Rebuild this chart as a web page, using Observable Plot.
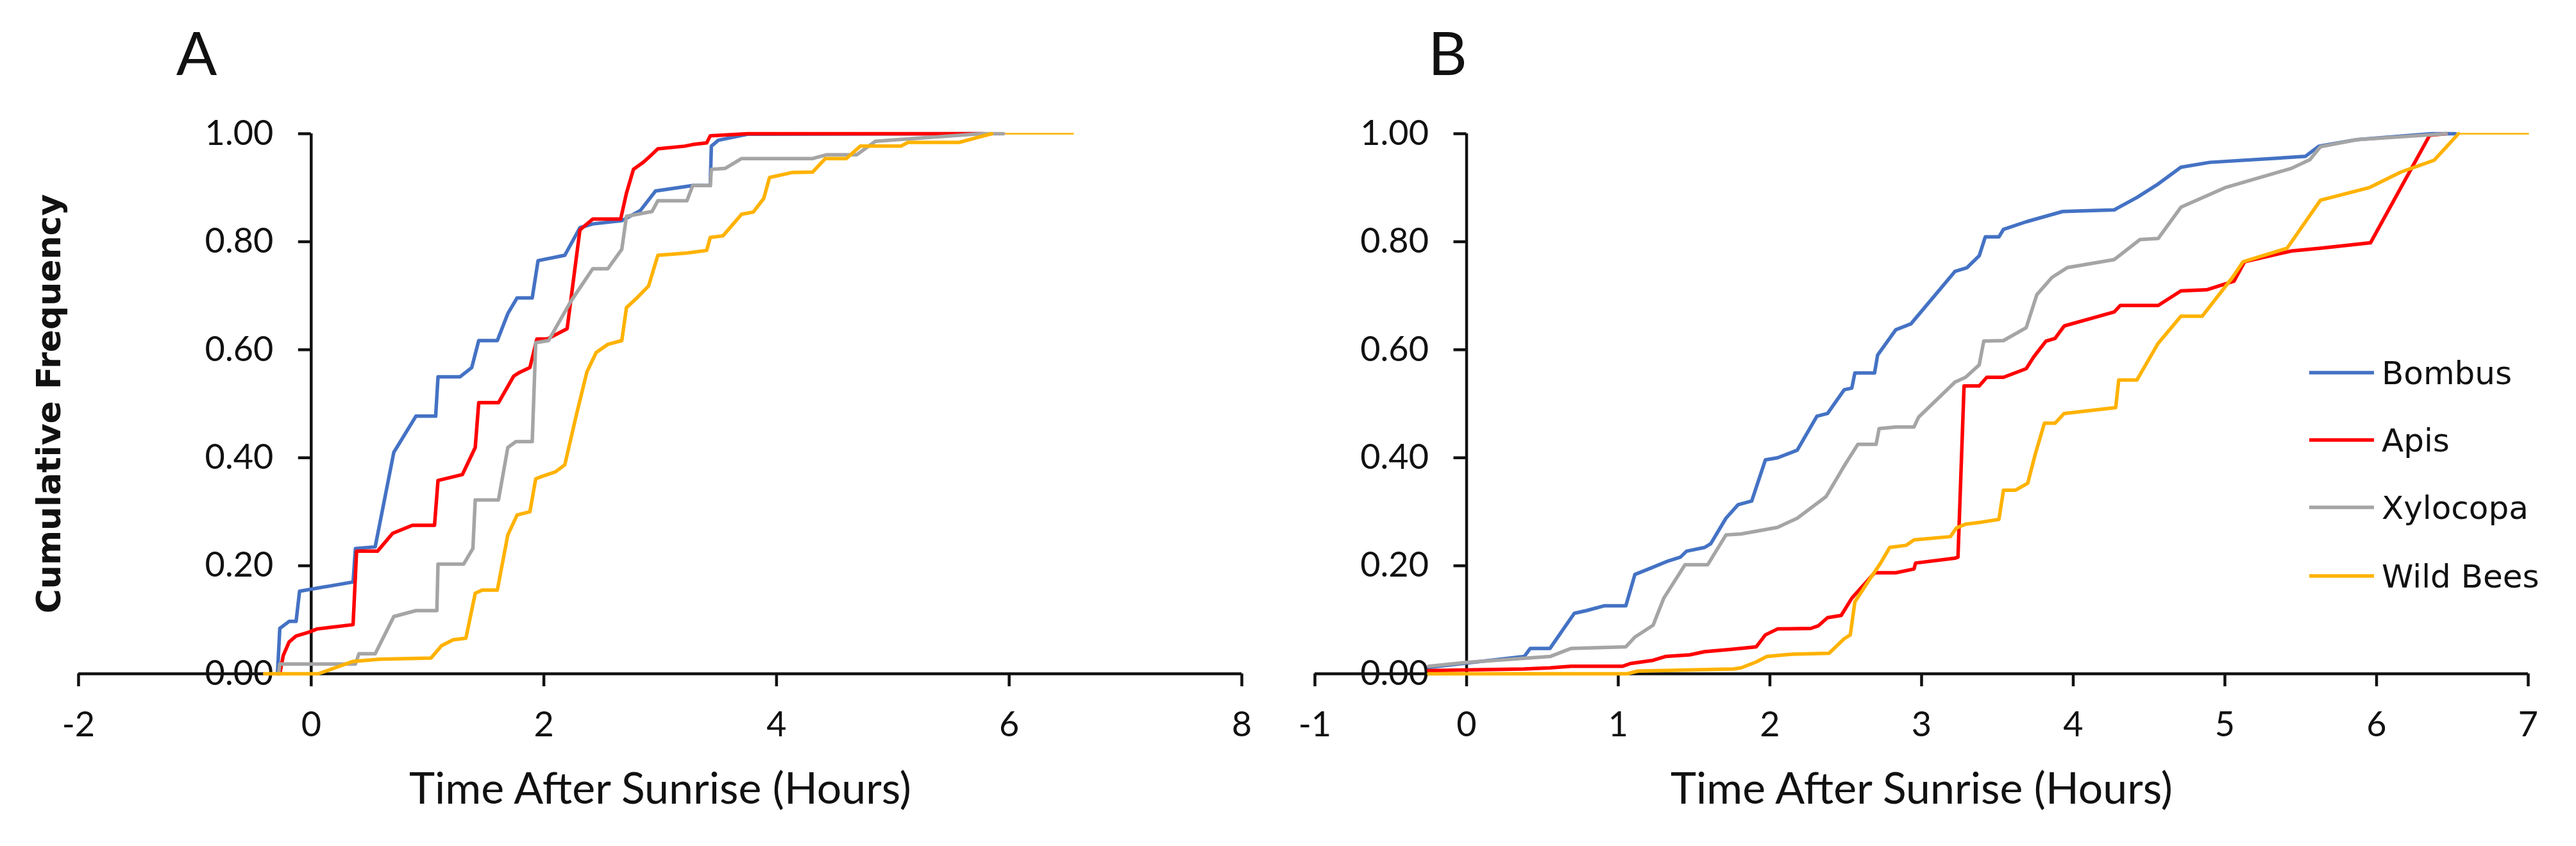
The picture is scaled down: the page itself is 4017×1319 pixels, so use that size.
<!DOCTYPE html>
<html><head><meta charset="utf-8">
<script src="https://cdn.jsdelivr.net/npm/d3@7"></script>
<script src="https://cdn.jsdelivr.net/npm/@observablehq/plot@0.6"></script>
<style>
html,body{margin:0;padding:0;background:#fff;}
#wrap{position:relative;width:4017px;height:1319px;overflow:hidden;background:#fff;}
#a{position:absolute;left:0;top:0;width:2000px;height:1319px;}
#b{position:absolute;left:2000px;top:0;width:2017px;height:1319px;}
#legend{position:absolute;left:3580px;top:530px;}
</style></head><body>
<div id="wrap"><div id="a"></div><div id="b"></div><div id="legend"></div></div>
<script>
// ---------- data ----------
const species = ["Bombus", "Apis", "Xylocopa", "Wild Bees"];
const speciesColors = ["#4472C4", "#FF0000", "#A5A5A5", "#FFB200"];
const yTicks = [0, 0.2, 0.4, 0.6, 0.8, 1.0];
const xTicksA = [-2, 0, 2, 4, 6, 8];
const xTicksB = [-1, 0, 1, 2, 3, 4, 5, 6, 7];
const xTitle = "Time After Sunrise (Hours)";
const yTitle = "Cumulative Frequency";

// Panel A  [hours after sunrise, cumulative frequency]
const bombusA = [[-0.29,0],[-0.27,0.084],[-0.19,0.097],[-0.13,0.097],[-0.1,0.153],[0.36,0.17],[0.38,0.232],[0.55,0.235],[0.71,0.41],[0.9,0.477],[1.07,0.477],[1.09,0.55],[1.28,0.55],[1.38,0.567],[1.44,0.617],[1.6,0.617],[1.69,0.667],[1.77,0.696],[1.9,0.696],[1.95,0.765],[2.18,0.775],[2.31,0.826],[2.42,0.833],[2.67,0.839],[2.83,0.858],[2.96,0.894],[3.28,0.904],[3.43,0.904],[3.44,0.977],[3.5,0.988],[3.75,0.999],[5.76,1.0]];
const apisA = [[-0.27,0],[-0.24,0.034],[-0.19,0.059],[-0.13,0.07],[-0.02,0.077],[0.05,0.083],[0.36,0.091],[0.39,0.227],[0.57,0.227],[0.7,0.26],[0.87,0.275],[1.06,0.275],[1.09,0.358],[1.3,0.369],[1.41,0.419],[1.44,0.502],[1.61,0.502],[1.74,0.551],[1.79,0.558],[1.88,0.567],[1.94,0.62],[2.03,0.62],[2.2,0.639],[2.31,0.822],[2.42,0.842],[2.66,0.842],[2.71,0.89],[2.77,0.934],[2.86,0.948],[2.98,0.972],[3.21,0.977],[3.28,0.98],[3.4,0.983],[3.43,0.996],[3.75,1.0],[5.78,1.0]];
const xylocopaA = [[-0.28,0],[-0.27,0.018],[0.38,0.018],[0.41,0.037],[0.55,0.037],[0.71,0.106],[0.9,0.117],[1.08,0.117],[1.09,0.203],[1.31,0.203],[1.39,0.232],[1.41,0.322],[1.61,0.322],[1.69,0.419],[1.76,0.43],[1.9,0.43],[1.93,0.613],[2.04,0.617],[2.23,0.689],[2.42,0.75],[2.55,0.75],[2.67,0.786],[2.71,0.847],[2.93,0.856],[2.98,0.876],[3.23,0.876],[3.28,0.904],[3.43,0.904],[3.44,0.934],[3.56,0.936],[3.7,0.954],[4.31,0.954],[4.43,0.961],[4.69,0.961],[4.85,0.986],[5.76,1.0],[5.95,1.0]];
const wildA = [[-0.4,0],[0.06,0],[0.36,0.023],[0.59,0.027],[1.03,0.029],[1.12,0.052],[1.22,0.063],[1.33,0.066],[1.41,0.149],[1.47,0.155],[1.6,0.155],[1.69,0.257],[1.77,0.294],[1.88,0.3],[1.93,0.361],[1.99,0.366],[2.1,0.374],[2.18,0.387],[2.28,0.48],[2.37,0.559],[2.45,0.595],[2.55,0.61],[2.67,0.617],[2.71,0.678],[2.8,0.696],[2.9,0.718],[2.98,0.775],[3.23,0.779],[3.4,0.784],[3.43,0.808],[3.54,0.811],[3.7,0.851],[3.8,0.855],[3.89,0.88],[3.94,0.919],[4.13,0.928],[4.31,0.929],[4.42,0.954],[4.6,0.954],[4.72,0.977],[5.07,0.977],[5.13,0.984],[5.57,0.984],[5.85,1.0]];
const wildTailA = [[5.85,1.0],[6.55,1.0]];

// Panel B
const bombusB = [[-0.25,0.012],[0.0,0.02],[0.38,0.032],[0.42,0.047],[0.55,0.047],[0.71,0.112],[0.79,0.117],[0.91,0.126],[1.05,0.126],[1.11,0.184],[1.2,0.194],[1.33,0.209],[1.41,0.216],[1.45,0.227],[1.57,0.234],[1.61,0.241],[1.71,0.288],[1.79,0.313],[1.88,0.32],[1.97,0.396],[2.05,0.4],[2.18,0.414],[2.31,0.477],[2.38,0.482],[2.49,0.526],[2.54,0.529],[2.56,0.557],[2.69,0.557],[2.71,0.59],[2.83,0.637],[2.93,0.648],[3.22,0.745],[3.3,0.752],[3.38,0.774],[3.42,0.809],[3.51,0.809],[3.54,0.823],[3.69,0.837],[3.93,0.856],[4.27,0.859],[4.42,0.882],[4.56,0.907],[4.71,0.938],[4.9,0.947],[5.53,0.958],[5.62,0.977],[5.87,0.989],[6.36,1.0],[6.52,1.0]];
const apisB = [[-0.25,0.006],[0.38,0.009],[0.55,0.011],[0.69,0.014],[1.03,0.014],[1.08,0.019],[1.23,0.025],[1.31,0.032],[1.47,0.035],[1.57,0.041],[1.74,0.045],[1.91,0.05],[1.97,0.072],[2.05,0.083],[2.27,0.084],[2.32,0.089],[2.38,0.104],[2.47,0.108],[2.54,0.14],[2.69,0.187],[2.83,0.187],[2.95,0.194],[2.96,0.205],[3.22,0.214],[3.24,0.216],[3.28,0.533],[3.38,0.533],[3.43,0.549],[3.54,0.549],[3.69,0.565],[3.74,0.587],[3.82,0.616],[3.88,0.621],[3.94,0.644],[4.27,0.67],[4.31,0.682],[4.56,0.682],[4.71,0.709],[4.88,0.711],[5.06,0.727],[5.13,0.763],[5.44,0.783],[5.63,0.788],[5.96,0.798],[6.35,0.997],[6.46,1.0]];
const xylocopaB = [[-0.25,0.014],[0.0,0.021],[0.55,0.032],[0.69,0.047],[1.05,0.05],[1.11,0.068],[1.23,0.09],[1.3,0.14],[1.44,0.202],[1.59,0.202],[1.71,0.257],[1.81,0.259],[2.05,0.271],[2.18,0.288],[2.37,0.328],[2.49,0.385],[2.58,0.425],[2.7,0.425],[2.72,0.454],[2.83,0.457],[2.95,0.457],[2.98,0.475],[3.22,0.54],[3.29,0.549],[3.38,0.572],[3.41,0.616],[3.54,0.617],[3.69,0.641],[3.76,0.702],[3.86,0.734],[3.96,0.752],[4.27,0.767],[4.44,0.804],[4.56,0.806],[4.71,0.864],[5.0,0.9],[5.44,0.936],[5.56,0.952],[5.63,0.976],[5.87,0.989],[6.46,1.0]];
const wildB = [[-0.25,0],[1.06,0],[1.13,0.005],[1.76,0.009],[1.81,0.011],[1.91,0.022],[1.98,0.032],[2.13,0.036],[2.39,0.038],[2.49,0.065],[2.53,0.072],[2.56,0.133],[2.66,0.176],[2.73,0.205],[2.79,0.234],[2.9,0.238],[2.95,0.248],[3.19,0.254],[3.23,0.27],[3.29,0.277],[3.4,0.281],[3.51,0.286],[3.54,0.34],[3.62,0.34],[3.7,0.353],[3.75,0.407],[3.81,0.464],[3.88,0.464],[3.94,0.482],[4.28,0.493],[4.3,0.544],[4.42,0.544],[4.56,0.612],[4.71,0.662],[4.85,0.662],[5.05,0.734],[5.12,0.763],[5.41,0.788],[5.63,0.877],[5.95,0.9],[6.16,0.929],[6.38,0.951],[6.54,1.0]];
const wildTailB = [[6.54,1.0],[7.0,1.0]];

// ---------- drawing ----------
const FONT = "Lato, 'Open Sans', sans-serif";
const INK = "#111";

function toRows(list) {
  return list.flatMap((pts, i) => pts.map(([t, f]) => ({species: species[i], t, f})));
}

function panel({series, tail, xDomain, xTicks, width, marginLeft, marginRight, letter, letterDx, withYTitle}) {
  const rows = toRows(series);
  const tailRows = tail.map(([t, f]) => ({t, f}));
  const marks = [
    Plot.ruleY([0], {stroke: INK, strokeWidth: 4.5}),
    Plot.ruleX([0], {y1: 0, y2: 1, stroke: INK, strokeWidth: 4.5}),
    Plot.ruleY(yTicks, {y: d => d, x1: 0, x2: 0, insetLeft: -20, stroke: INK, strokeWidth: 4.5}),
    Plot.text(yTicks, {y: d => d, x: 0, dx: -59, textAnchor: "end", text: d => d.toFixed(2),
      fontSize: 54, fontFamily: FONT, fill: INK}),
    Plot.axisX({ticks: xTicks, tickSize: 20, tickPadding: 39, tickFormat: d => String(d),
      fontSize: 54, fontFamily: FONT, color: INK, strokeWidth: 4.5, label: null}),
    Plot.line(tailRows, {x: "t", y: "f", stroke: speciesColors[3], strokeWidth: 2.5}),
    Plot.line(rows, {x: "t", y: "f", stroke: "species", z: "species", strokeWidth: 5.5, strokeLinejoin: "round"}),
    Plot.text([xTitle], {frameAnchor: "bottom", dy: 181, lineAnchor: "middle", textAnchor: "middle",
      fontSize: 68, fontFamily: FONT, fill: INK}),
    Plot.text([letter], {frameAnchor: "top-left", dx: letterDx, dy: -122, lineAnchor: "middle", textAnchor: "middle",
      fontSize: 94, fontFamily: FONT, fill: INK})
  ];
  if (withYTitle) {
    marks.push(Plot.text([yTitle], {frameAnchor: "left", dx: -45, rotate: -90, lineAnchor: "middle", textAnchor: "middle",
      fontSize: 52, fontWeight: "bold", fontFamily: "'DejaVu Sans', sans-serif", fill: INK}));
  }
  return Plot.plot({
    width, height: 1319,
    marginLeft, marginRight, marginTop: 208, marginBottom: 269,
    x: {domain: xDomain, label: null},
    y: {domain: [0, 1], axis: null, label: null},
    color: {domain: species, range: speciesColors},
    style: {background: "transparent", overflow: "visible", fontFamily: FONT, maxWidth: "none"},
    marks
  });
}

document.getElementById("a").append(panel({
  series: [bombusA, apisA, xylocopaA, wildA], tail: wildTailA,
  xDomain: [-2, 8], xTicks: xTicksA, width: 2000, marginLeft: 122, marginRight: 64,
  letter: "A", letterDx: 184, withYTitle: true
}));
document.getElementById("b").append(panel({
  series: [bombusB, apisB, xylocopaB, wildB], tail: wildTailB,
  xDomain: [-1, 7], xTicks: xTicksB, width: 2017, marginLeft: 50, marginRight: 75,
  letter: "B", letterDx: 207, withYTitle: false
}));

// legend (panel B)
const lg = d3.select("#legend").append("svg").attr("width", 437).attr("height", 420);
const rowsY = [51, 156, 261, 368];
species.forEach((s, i) => {
  lg.append("line").attr("x1", 21).attr("x2", 122).attr("y1", rowsY[i]).attr("y2", rowsY[i])
    .attr("stroke", speciesColors[i]).attr("stroke-width", 5.5);
  lg.append("text").attr("x", 134).attr("y", rowsY[i] + 18).text(s)
    .attr("font-family", "'DejaVu Sans', sans-serif").attr("font-size", 50).attr("fill", INK);
});
</script>
</body></html>
